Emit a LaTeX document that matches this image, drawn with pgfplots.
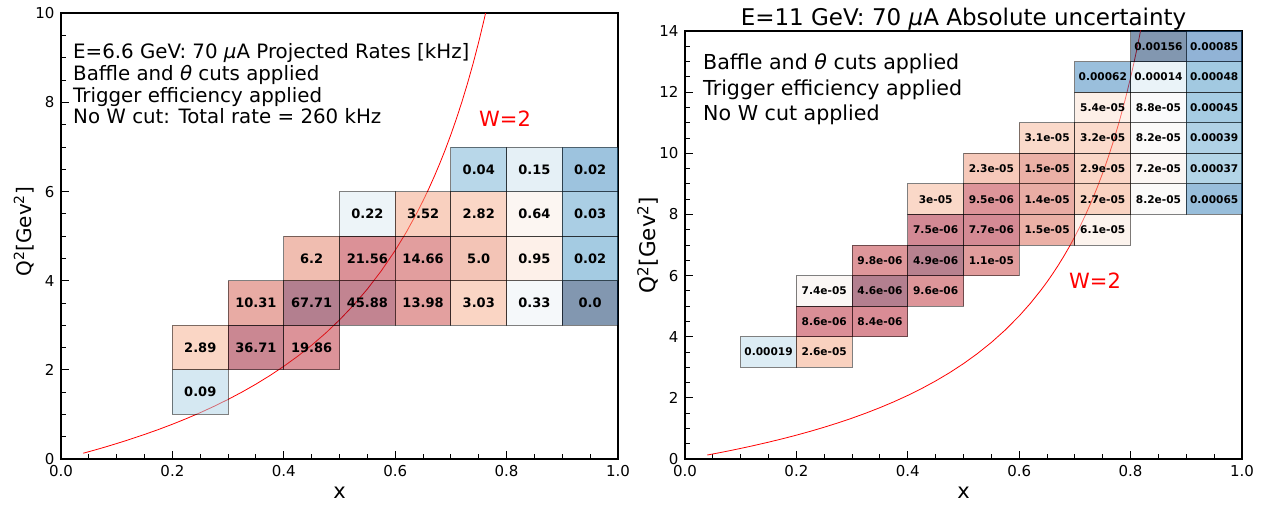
\documentclass[border=0pt]{standalone}
\usepackage{fontspec}
\setmainfont{DejaVu Sans}
\usepackage{pgfplots}
\usepackage{pgfplotstable}
\pgfplotsset{compat=1.18}

\pgfplotsset{
  colormap={rdbur}{rgb255=(5,48,97) rgb255=(33,102,172) rgb255=(67,147,195) rgb255=(146,197,222) rgb255=(209,229,240) rgb255=(247,247,247) rgb255=(253,219,199) rgb255=(244,165,130) rgb255=(214,96,77) rgb255=(178,24,43) rgb255=(103,0,31)},
  colormap={rdbu}{rgb255=(103,0,31) rgb255=(178,24,43) rgb255=(214,96,77) rgb255=(244,165,130) rgb255=(253,219,199) rgb255=(247,247,247) rgb255=(209,229,240) rgb255=(146,197,222) rgb255=(67,147,195) rgb255=(33,102,172) rgb255=(5,48,97)},
  myaxis/.style={
    scale only axis, width=557pt, anchor=south west,
    xmin=0, xmax=1,
    xtick={0,0.2,0.4,0.6,0.8,1},
    minor x tick num=3, minor y tick num=3,
    tick align=inside, tick pos=left,
    major tick length=8pt, minor tick length=5pt,
    tick style={black, line width=1pt},
    axis line style={line width=1.6pt},
    ticklabel style={font=\fontsize{15}{15}\selectfont},
    /pgf/number format/assume math mode=true,
    xticklabel style={/pgf/number format/fixed, /pgf/number format/fixed zerofill, /pgf/number format/precision=1, yshift=-3pt},
    yticklabel style={xshift=-3pt},
    xlabel={x},
    clip=true,
  }
}

\pgfplotstableread{
x y v lab
0.25 1.5 0.09 0.09
0.25 2.5 2.89 2.89
0.35 2.5 36.71 36.71
0.45 2.5 19.86 19.86
0.35 3.5 10.31 10.31
0.45 3.5 67.71 67.71
0.55 3.5 45.88 45.88
0.65 3.5 13.98 13.98
0.75 3.5 3.03 3.03
0.85 3.5 0.33 0.33
0.95 3.5 0.003 0.0
0.45 4.5 6.2 6.2
0.55 4.5 21.56 21.56
0.65 4.5 14.66 14.66
0.75 4.5 5.0 5.0
0.85 4.5 0.95 0.95
0.95 4.5 0.024 0.02
0.55 5.5 0.22 0.22
0.65 5.5 3.52 3.52
0.75 5.5 2.82 2.82
0.85 5.5 0.64 0.64
0.95 5.5 0.028 0.03
0.75 6.5 0.04 0.04
0.85 6.5 0.15 0.15
0.95 6.5 0.0176 0.02
}\lefttab

\pgfplotstableread{
x y v
0.15 3.5 0.00019
0.25 3.5 2.6e-05
0.25 4.5 8.6e-06
0.35 4.5 8.4e-06
0.25 5.5 7.4e-05
0.35 5.5 4.6e-06
0.45 5.5 9.6e-06
0.35 6.5 9.8e-06
0.45 6.5 4.9e-06
0.55 6.5 1.1e-05
0.45 7.5 7.5e-06
0.55 7.5 7.7e-06
0.65 7.5 1.5e-05
0.75 7.5 6.1e-05
0.45 8.5 3e-05
0.55 8.5 9.5e-06
0.65 8.5 1.4e-05
0.75 8.5 2.7e-05
0.85 8.5 8.2e-05
0.95 8.5 0.00065
0.55 9.5 2.3e-05
0.65 9.5 1.5e-05
0.75 9.5 2.9e-05
0.85 9.5 7.2e-05
0.95 9.5 0.00037
0.65 10.5 3.1e-05
0.75 10.5 3.2e-05
0.85 10.5 8.2e-05
0.95 10.5 0.00039
0.75 11.5 5.4e-05
0.85 11.5 8.8e-05
0.95 11.5 0.00045
0.75 12.5 0.00062
0.85 12.5 0.00014
0.95 12.5 0.00048
0.85 13.5 0.00156
0.95 13.5 0.00085
}\righttab

\pgfplotstableread{
x q
0.04 0.130
0.06 0.199
0.08 0.271
0.10 0.347
0.12 0.4255
0.15 0.551
0.175 0.6618
0.20 0.780
0.225 0.9058
0.25 1.040
0.275 1.1834
0.30 1.337
0.325 1.5022
0.35 1.680
0.375 1.872
0.40 2.080
0.425 2.3061
0.45 2.553
0.475 2.8229
0.50 3.120
0.525 3.4484
0.55 3.813
0.575 4.2212
0.60 4.680
0.62 5.0905
0.64 5.5467
0.65 5.794
0.66 6.0565
0.67 6.3345
0.68 6.630
0.69 6.9445
0.70 7.280
0.71 7.6386
0.72 8.023
0.73 8.4356
0.74 8.880
0.75 9.360
0.76 9.880
0.77 10.445
0.78 11.062
0.79 11.737
0.80 12.480
0.805 12.880
0.81 13.301
0.815 13.745
0.82 14.213
}\wcurve

\begin{document}
\begin{tikzpicture}
% ---------------- left panel ----------------
\begin{axis}[myaxis,
  at={(61pt,45pt)}, height=445.7pt,
  ymin=0, ymax=10, ytick={0,2,4,6,8,10},
  colormap name=rdbur,
  point meta min=-2.523, point meta max=1.8307,
  xlabel style={font=\fontsize{21}{21}\selectfont, at={(axis description cs:0.5,-0.0752)}, anchor=center},
  ylabel={Q\textsuperscript{2}[Gev\textsuperscript{2}]},
  ylabel style={font=\fontsize{20}{20}\selectfont, at={(axis description cs:-0.0664,0.51)}, anchor=center},
]
\addplot[scatter, only marks, mark=square*, mark size=22.285pt,
  mark options={xscale=1.2497, line width=1pt},
  scatter/use mapped color={draw=black, draw opacity=0.5, fill=mapped color, fill opacity=0.5},
  point meta={log10(\thisrow{v})}]
  table[x=x, y=y] {\lefttab};
\addplot[red, line width=0.8pt, mark=none] table[x=x, y=q] {\wcurve};
\addplot[draw=none, mark=none, nodes near coords, point meta=explicit symbolic,
  every node near coord/.append style={anchor=center, text=black, font=\fontsize{13}{13}\selectfont\bfseries}]
  table[x=x, y=y, meta=lab] {\lefttab};
\end{axis}
% ---------------- right panel ----------------
\begin{axis}[myaxis,
  at={(685pt,45pt)}, height=428pt,
  ymin=0, ymax=14, ytick={0,2,4,6,8,10,12,14},
  colormap name=rdbu,
  point meta min=-5.3372, point meta max=-2.8069,
  xlabel style={font=\fontsize{21}{21}\selectfont, at={(axis description cs:0.5,-0.0783)}, anchor=center},
  ylabel={Q\textsuperscript{2}[Gev\textsuperscript{2}]},
  ylabel style={font=\fontsize{21.5}{21.5}\selectfont, at={(axis description cs:-0.0664,0.5)}, anchor=center},
]
\addplot[scatter, only marks, mark=square*, mark size=15.286pt,
  mark options={xscale=1.822, line width=1pt},
  scatter/use mapped color={draw=black, draw opacity=0.5, fill=mapped color, fill opacity=0.5},
  point meta={log10(\thisrow{v})}]
  table[x=x, y=y] {\righttab};
\addplot[red, line width=0.8pt, mark=none] table[x=x, y=q] {\wcurve};
\addplot[draw=none, mark=none, nodes near coords, point meta=explicit symbolic,
  every node near coord/.append style={anchor=center, text=black, font=\fontsize{10.6}{10.6}\selectfont\bfseries}]
  table[x=x, y=y, meta=v] {\righttab};
\end{axis}
% ---------------- texts ----------------
\begin{scope}[every node/.style={inner sep=0pt, anchor=base west}]
\node[font=\fontsize{19.8}{19.8}\selectfont] at (73pt,445pt) {E=6.6 GeV: 70 {\itshape μ}A Projected Rates [kHz]};
\node[font=\fontsize{19.8}{19.8}\selectfont] at (73pt,423.3pt) {Baffle and {\itshape θ} cuts applied};
\node[font=\fontsize{19.8}{19.8}\selectfont] at (73pt,401.7pt) {Trigger efficiency applied};
\node[font=\fontsize{19.8}{19.8}\selectfont] at (73pt,380pt) {No W cut: Total rate = 260 kHz};
\node[font=\fontsize{20.6}{20.6}\selectfont] at (703pt,434.7pt) {Baffle and {\itshape θ} cuts applied};
\node[font=\fontsize{20.6}{20.6}\selectfont] at (703pt,408.8pt) {Trigger efficiency applied};
\node[font=\fontsize{20.6}{20.6}\selectfont] at (703pt,383pt) {No W cut applied};
\end{scope}
\node[inner sep=0pt, anchor=base, font=\fontsize{23}{23}\selectfont] at (963.5pt,478pt) {E=11 GeV: 70 {\itshape μ}A Absolute uncertainty};
\node[inner sep=0pt, anchor=center, text=red, font=\fontsize{21}{21}\selectfont] at (505pt,385.6pt) {W=2};
\node[inner sep=0pt, anchor=center, text=red, font=\fontsize{21}{21}\selectfont] at (1095pt,223pt) {W=2};
\pgfresetboundingbox
\path[use as bounding box] (0,0) rectangle (1268pt,504pt);
\end{tikzpicture}
\end{document}
